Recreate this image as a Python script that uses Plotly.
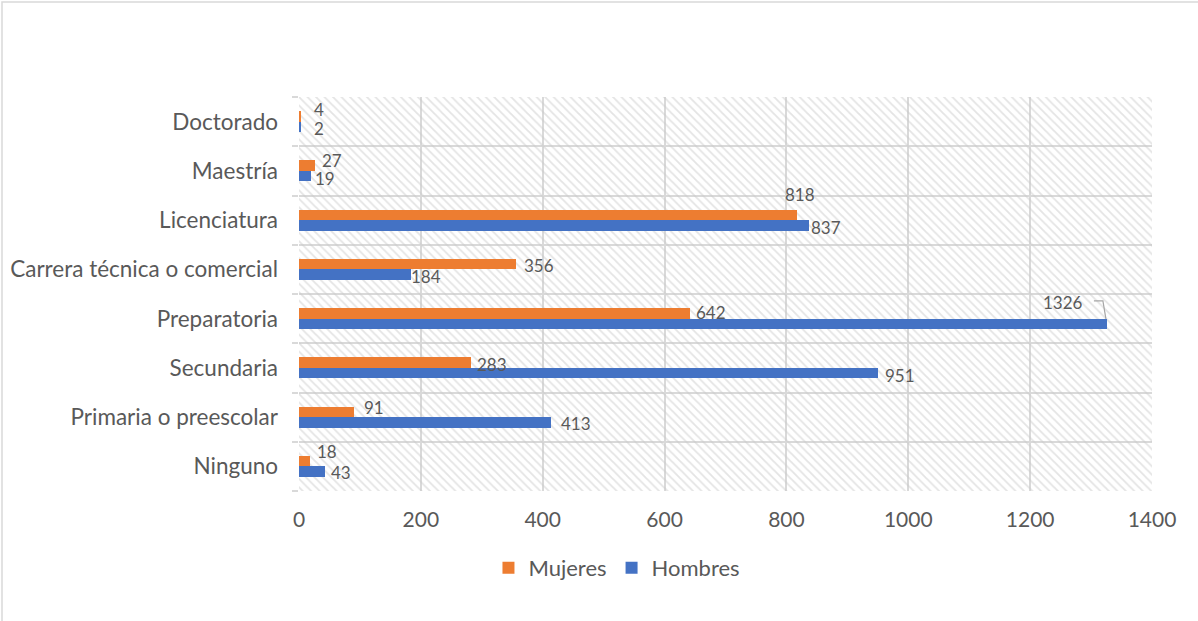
import plotly.graph_objects as go

# Nivel de estudios, de abajo hacia arriba en el eje vertical
categorias = ["Ninguno", "Primaria o preescolar", "Secundaria", "Preparatoria",
              "Carrera técnica o comercial", "Licenciatura", "Maestría", "Doctorado"]
mujeres = [18, 91, 283, 642, 356, 818, 27, 4]
hombres = [43, 413, 951, 1326, 184, 837, 19, 2]

# Desplazamiento (px) de cada etiqueta de dato respecto al final de su barra
dx_mujeres = [17, 20, 21, 21, 23, 3, 17, 18]
dy_mujeres = [-10, -4, 2, -1, 1, -20, -5, -7]
dx_hombres = [16, 25, 22, -44, 15, 17, 14, 19]
dy_hombres = [1, 1, 2, -21, 2, 2, 2, 2]

NARANJA = "#ED7D31"
AZUL = "#4472C4"
GRIS = "#D9D9D9"
TEXTO = "#595959"
FUENTE = "Lato"

X_MAX = 1400
ANCHO = 0.215
pos = list(range(len(categorias)))

M_L, M_R, M_T, M_B = 299, 46, 97, 130
W, H = 1198, 621
PW, PH = W - M_L - M_R, H - M_T - M_B

fig = go.Figure()

# Fondo rayado del área de trazado (una banda por categoría)
fig.add_trace(go.Bar(
    y=pos, x=[X_MAX] * len(pos), orientation="h", width=1, offset=-0.5,
    marker=dict(color="rgba(0,0,0,0)", line=dict(width=0),
                pattern=dict(shape="\\", fgcolor="#C9C9C9", bgcolor="rgba(0,0,0,0)",
                             size=6, solidity=0.3, fillmode="overlay")),
    hoverinfo="skip", showlegend=False,
))

fig.add_trace(go.Bar(
    name="Mujeres", y=pos, x=mujeres, orientation="h", width=ANCHO, offset=0,
    marker=dict(color=NARANJA, line=dict(width=0)),
))
fig.add_trace(go.Bar(
    name="Hombres", y=pos, x=hombres, orientation="h", width=ANCHO, offset=-ANCHO,
    marker=dict(color=AZUL, line=dict(width=0)),
))

annotations = []
for i in pos:
    for val, dx, dy, yc in ((mujeres[i], dx_mujeres[i], dy_mujeres[i], i + ANCHO / 2),
                            (hombres[i], dx_hombres[i], dy_hombres[i], i - ANCHO / 2)):
        annotations.append(dict(
            x=val, y=yc, xref="x", yref="y", text=str(val), showarrow=False,
            xanchor="center", yanchor="middle", xshift=dx, yshift=-dy,
            font=dict(family=FUENTE, size=17, color=TEXTO),
        ))

shapes = []
# Línea guía de la etiqueta desplazada de Preparatoria (Hombres)
i_prep = categorias.index("Preparatoria")
shapes.append(dict(
    type="path", xref="x", yref="y",
    xsizemode="pixel", ysizemode="pixel",
    xanchor=hombres[i_prep], yanchor=i_prep - ANCHO / 2,
    path="M-13,23 L-4,23 L-1,5",
    line=dict(color="#A6A6A6", width=1.2),
))
# Borde exterior del gráfico
shapes.append(dict(
    type="rect", xref="paper", yref="paper",
    x0=(2 - M_L) / PW, x1=(W + 10 - M_L) / PW,
    y0=-(H + 10 - (M_T + PH)) / PH, y1=(M_T + PH - 2) / PH,
    line=dict(color="#D9D9D9", width=1.5), fillcolor="rgba(0,0,0,0)", layer="below",
))

fig.update_layout(
    width=W, height=H,
    margin=dict(l=M_L, r=M_R, t=M_T, b=M_B, autoexpand=False),
    paper_bgcolor="white", plot_bgcolor="white",
    barmode="overlay", bargap=0,
    font=dict(family=FUENTE, color=TEXTO),
    xaxis=dict(
        range=[0, X_MAX], tickvals=list(range(0, X_MAX + 1, 200)),
        showgrid=True, gridcolor=GRIS, gridwidth=2, zeroline=False,
        showline=False, ticks="", ticklabelstandoff=14, automargin=False,
        tickfont=dict(family=FUENTE, size=21, color=TEXTO),
    ),
    yaxis=dict(
        range=[-0.5, len(categorias) - 0.5], tickvals=pos, ticktext=categorias,
        showgrid=False, zeroline=False, showline=False, ticks="",
        ticklabelstandoff=20, automargin=False,
        tickfont=dict(family=FUENTE, size=22.5, color=TEXTO),
        minor=dict(tickvals=[p - 0.5 for p in pos] + [len(pos) - 0.5],
                   showgrid=True, gridcolor=GRIS, gridwidth=2,
                   ticks="outside", ticklen=6, tickcolor=GRIS, tickwidth=2),
    ),
    legend=dict(
        orientation="h", xref="container", yref="container",
        x=0.515, y=1 - 568 / H, xanchor="center", yanchor="middle",
        font=dict(family=FUENTE, size=22, color=TEXTO),
        traceorder="normal", itemclick=False, itemwidth=30,
    ),
    annotations=annotations,
    shapes=shapes,
    showlegend=True,
)

fig.write_html("out.html")
